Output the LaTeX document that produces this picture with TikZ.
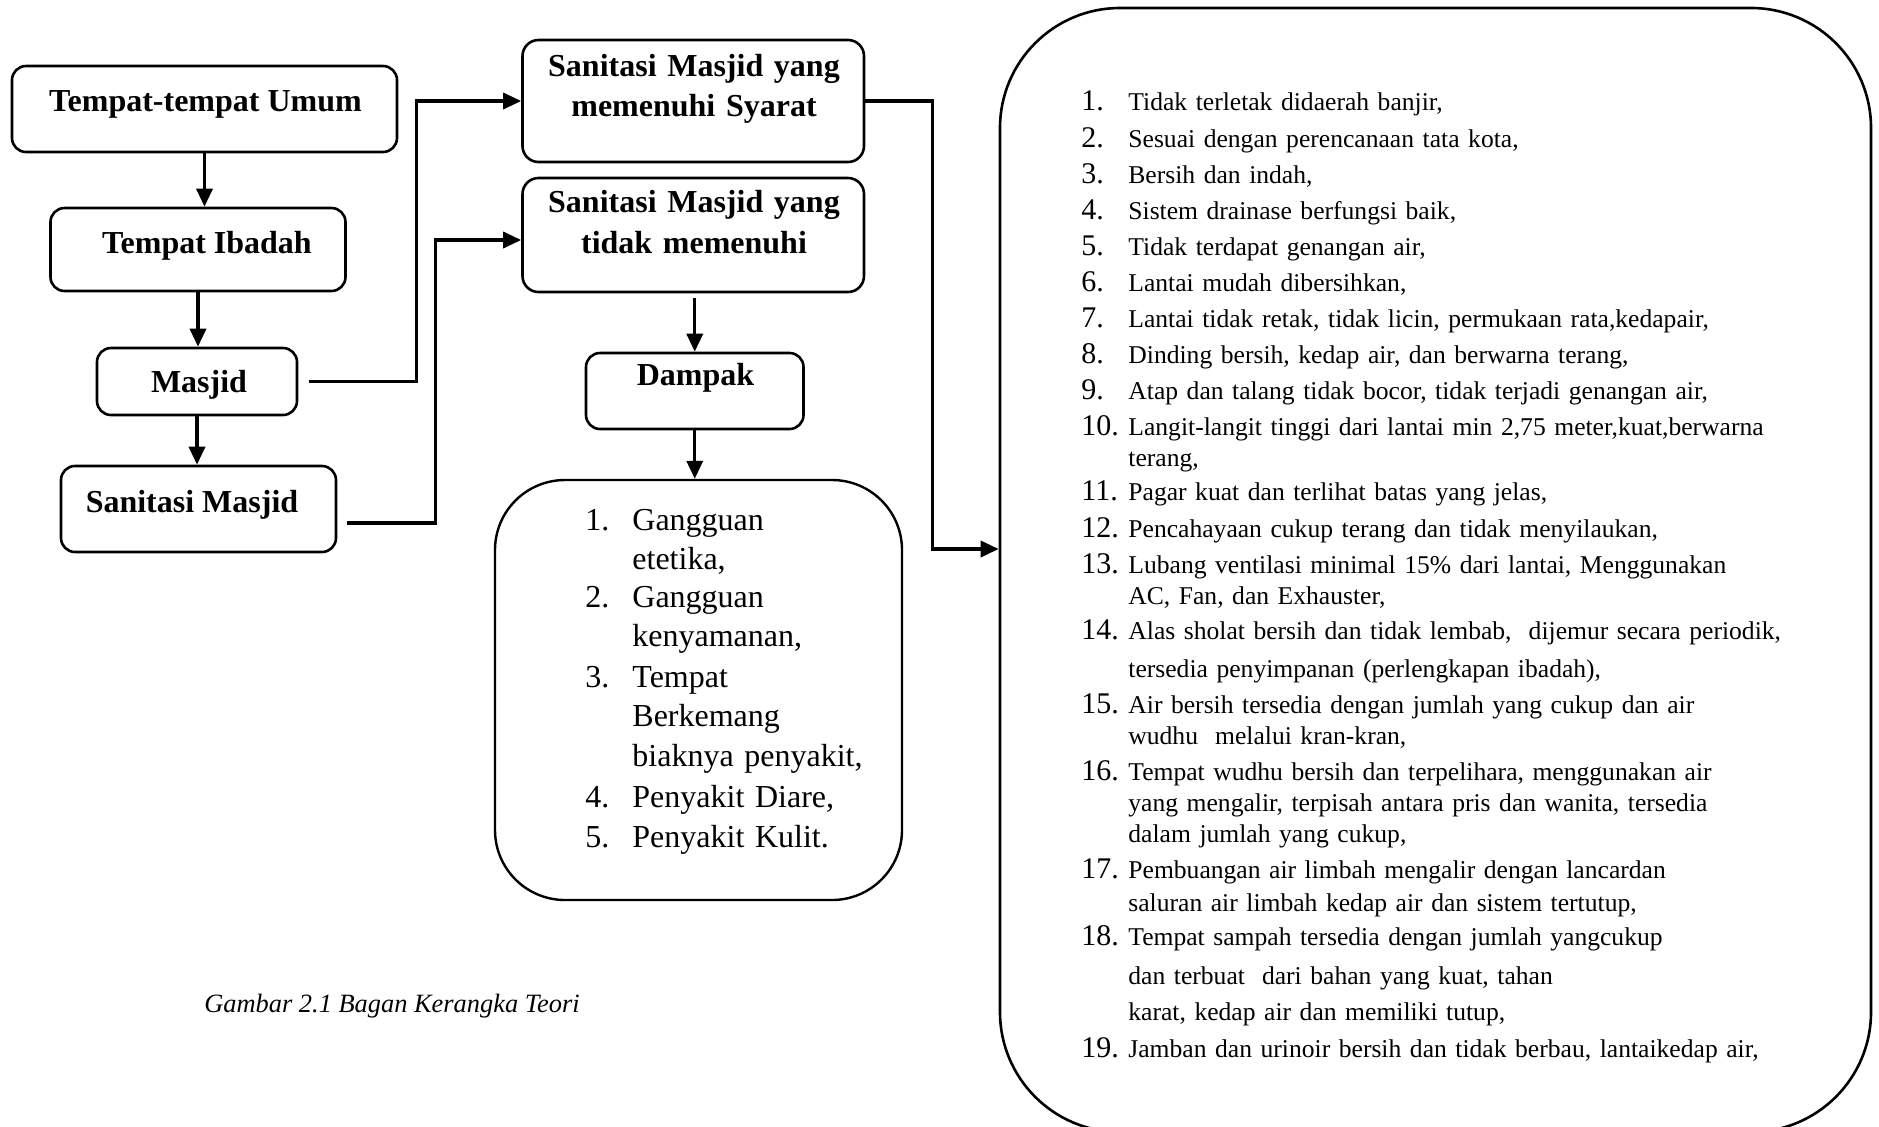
\documentclass[tikz,border=0pt]{standalone}
\usepackage{fontspec}
\setmainfont{Liberation Serif}
\usetikzlibrary{arrows.meta}

\tikzset{
  box/.style={draw, line width=1.3pt, rounded corners=7pt, inner sep=0pt},
  bigbox/.style={draw, line width=1.3pt, inner sep=0pt},
  boxtext/.style={font=\fontsize{16}{20.25}\selectfont\bfseries, anchor=base, inner sep=0pt},
  arr/.style={line width=1.7pt, -{Triangle[length=9pt,width=8pt]}},
  dnum/.style={font=\fontsize{16}{19.8}\selectfont, anchor=base west, inner sep=0pt},
  dtext/.style={dnum, text width=150pt, align=left},
  knum/.style={font=\fontsize{15}{15.5}\selectfont, anchor=base west, inner sep=0pt},
  ktext/.style={font=\fontsize{12.8}{15.5}\selectfont, anchor=base west, inner sep=0pt, text width=370pt, align=left}
}

\begin{document}
\begin{tikzpicture}[x=0.5pt, y=-0.5pt]
  \useasboundingbox (0,0) rectangle (1879,1126);

  % Left column
  \node[box, minimum width=192.5pt, minimum height=43pt] (umum) at (204.5,109) {};
  \node[boxtext] (umum-txt) at (205.5,111) {Tempat-tempat Umum};
  \node[box, minimum width=147.5pt, minimum height=41.5pt] (ibadah) at (198,249.5) {};
  \node[boxtext] (ibadah-txt) at (207,253) {Tempat Ibadah};
  \node[box, minimum width=100pt, minimum height=33.5pt] (masjid) at (197,381.5) {};
  \node[boxtext] (masjid-txt) at (199,392) {Masjid};
  \node[box, minimum width=137.5pt, minimum height=43pt] (sanmas) at (198.5,509) {};
  \node[boxtext] (sanmas-txt) at (192,512) {Sanitasi Masjid};

  \draw[arr] (umum.south) -- (umum.south |- ibadah.north);
  \draw[arr] (ibadah.south) -- (ibadah.south |- masjid.north);
  \draw[arr] (masjid.south) -- (masjid.south |- sanmas.north);

  % Middle column
  \node[box, rounded corners=8pt, minimum width=170.75pt, minimum height=61pt] (syarat) at (693.25,101) {};
  \node[boxtext, text width=170pt, align=center] (syarat-txt) at (694,76) {Sanitasi Masjid yang\\memenuhi Syarat};
  \node[box, rounded corners=8pt, minimum width=170.75pt, minimum height=57pt] (tidak) at (693.25,235) {};
  \node[boxtext, text width=170pt, align=center] (tidak-txt) at (694,212.5) {Sanitasi Masjid yang\\tidak memenuhi};
  \node[box, minimum width=108.75pt, minimum height=38pt] (dampak) at (694.75,391) {};
  \node[boxtext] (dampak-txt) at (695.5,385) {Dampak};
  \node[bigbox, rounded corners=35pt, line width=1.2pt, minimum width=203.5pt, minimum height=210pt] (efek) at (698.5,690) {};

  % Right box with the requirements
  \node[bigbox, rounded corners=60pt, minimum width=435.5pt, minimum height=562pt] (kriteria) at (1435.5,570) {};

  % Connectors
  \draw[arr, shorten <=5.5pt] (masjid.east) -- ++(118,0) |- (syarat.west);
  \draw[arr, shorten <=5pt] ([yshift=-7pt]sanmas.east) -- ++(98,0) |- ([yshift=-2.5pt]tidak.west);
  \draw[arr, shorten <=2.5pt] (tidak.south -| dampak.north) -- (dampak.north);
  \draw[arr] (dampak.south) -- (dampak.south |- efek.north);
  \draw[arr] (syarat.east) -- ++(67,0) |- ([yshift=10.5pt]kriteria.west);

  % Dampak list
  \node[dnum] (d1) at (585,530) {1.};
  \node[dtext] (d1-txt) at (632,530) {Gangguan\\etetika,};
  \node[dnum] (d2) at (585,607) {2.};
  \node[dtext] (d2-txt) at (632,607) {Gangguan\\kenyamanan,};
  \node[dnum] (d3) at (585,687) {3.};
  \node[dtext] (d3-txt) at (632,687) {Tempat\\Berkemang\\biaknya penyakit,};
  \node[dnum] (d4) at (585,807) {4.};
  \node[dtext] (d4-txt) at (632,807) {Penyakit Diare,};
  \node[dnum] (d5) at (585,847) {5.};
  \node[dtext] (d5-txt) at (632,847) {Penyakit Kulit.};

  % Caption
  \node[anchor=base west, inner sep=0pt, font=\fontsize{13.2}{16}\selectfont\itshape] (judul) at (204,1012) {Gambar 2.1 Bagan Kerangka Teori};

  % Requirement list
  \node[knum] (k1) at (1081,110) {1.};
  \node[ktext] (k1-txt) at (1128,110) {Tidak terletak didaerah banjir,};
  \node[knum] (k2) at (1081,147) {2.};
  \node[ktext] (k2-txt) at (1128,147) {Sesuai dengan perencanaan tata kota,};
  \node[knum] (k3) at (1081,183) {3.};
  \node[ktext] (k3-txt) at (1128,183) {Bersih dan indah,};
  \node[knum] (k4) at (1081,219) {4.};
  \node[ktext] (k4-txt) at (1128,219) {Sistem drainase berfungsi baik,};
  \node[knum] (k5) at (1081,255) {5.};
  \node[ktext] (k5-txt) at (1128,255) {Tidak terdapat genangan air,};
  \node[knum] (k6) at (1081,291) {6.};
  \node[ktext] (k6-txt) at (1128,291) {Lantai mudah dibersihkan,};
  \node[knum] (k7) at (1081,327) {7.};
  \node[ktext] (k7-txt) at (1128,327) {Lantai tidak retak, tidak licin, permukaan rata,kedapair,};
  \node[knum] (k8) at (1081,363) {8.};
  \node[ktext] (k8-txt) at (1128,363) {Dinding bersih, kedap air, dan berwarna terang,};
  \node[knum] (k9) at (1081,399) {9.};
  \node[ktext] (k9-txt) at (1128,399) {Atap dan talang tidak bocor, tidak terjadi genangan air,};
  \node[knum] (k10) at (1081,435) {10.};
  \node[ktext] (k10-txt) at (1128,435) {Langit-langit tinggi dari lantai min 2,75 meter,kuat,berwarna\\terang,};
  \node[knum] (k11) at (1081,500) {11.};
  \node[ktext] (k11-txt) at (1128,500) {Pagar kuat dan terlihat batas yang jelas,};
  \node[knum] (k12) at (1081,537) {12.};
  \node[ktext] (k12-txt) at (1128,537) {Pencahayaan cukup terang dan tidak menyilaukan,};
  \node[knum] (k13) at (1081,573) {13.};
  \node[ktext] (k13-txt) at (1128,573) {Lubang ventilasi minimal 15\% dari lantai, Menggunakan\\AC, Fan, dan Exhauster,};
  \node[knum] (k14) at (1081,639) {14.};
  \node[ktext] (k14-txt) at (1128,639) {Alas sholat bersih dan tidak lembab,\ \ dijemur secara periodik,\\[3.5pt]tersedia penyimpanan (perlengkapan ibadah),};
  \node[knum] (k15) at (1081,713) {15.};
  \node[ktext] (k15-txt) at (1128,713) {Air bersih tersedia dengan jumlah yang cukup dan air\\wudhu\ \ melalui kran-kran,};
  \node[knum] (k16) at (1081,780) {16.};
  \node[ktext] (k16-txt) at (1128,780) {Tempat wudhu bersih dan terpelihara, menggunakan air\\yang mengalir, terpisah antara pris dan wanita, tersedia\\dalam jumlah yang cukup,};
  \node[knum] (k17) at (1081,878) {17.};
  \node[ktext] (k17-txt) at (1128,878) {Pembuangan air limbah mengalir dengan lancardan\\[1pt]saluran air limbah kedap air dan sistem tertutup,};
  \node[knum] (k18) at (1081,945) {18.};
  \node[ktext] (k18-txt) at (1128,945) {Tempat sampah tersedia dengan jumlah yangcukup\\[4pt]dan terbuat\ \ dari bahan yang kuat, tahan\\[2.5pt]karat, kedap air dan memiliki tutup,};
  \node[knum] (k19) at (1081,1057) {19.};
  \node[ktext] (k19-txt) at (1128,1057) {Jamban dan urinoir bersih dan tidak berbau, lantaikedap air,};
\end{tikzpicture}
\end{document}
